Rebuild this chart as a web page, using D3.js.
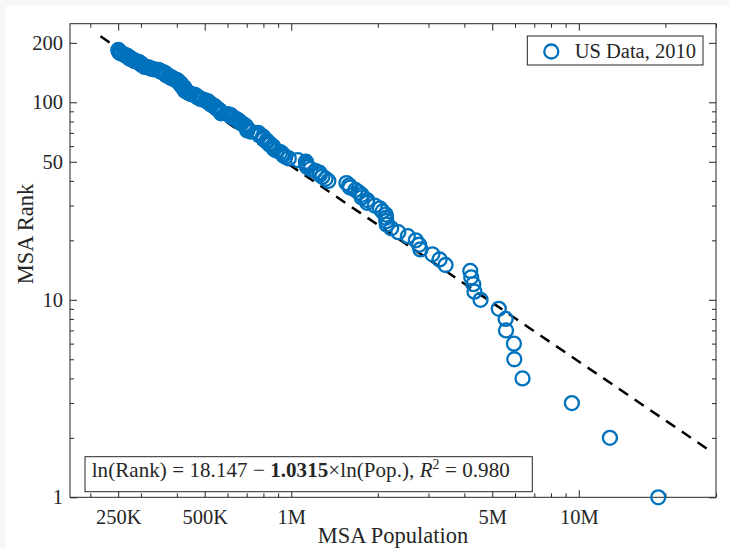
<!DOCTYPE html>
<html>

<head>
  <meta charset="utf-8">
  <style>
    body { margin: 0; background: #f7f7f7; }
    svg { display: block; }
    text { font-family: "Liberation Serif", "Times New Roman", serif; fill: #262626; }
  </style>
</head>

<body>
  <script src="https://d3js.org/d3.v7.min.js"></script>
  <script>
    // 2010 MSA populations, sorted, rank = position + 1
    var population = [
      18897109, 12828837, 9461105, 6371773, 5965343, 5946800, 5582170, 5564635, 5268860, 4552402,
      4335391, 4296250, 4224851, 4192887, 3439809, 3279833, 3095313, 2812896, 2783243, 2710489,
      2543482, 2356285, 2226009, 2149127, 2142508, 2134411, 2130151, 2077240, 2035334, 1951269,
      1836911, 1836536, 1758038, 1756241, 1716289, 1671683, 1600852, 1589934, 1555908, 1345596,
      1316100, 1283566, 1258251, 1252987, 1212381, 1167764, 1135509, 1130490, 1128047, 1124197,
      1054323, 980263, 953207, 937478, 930450, 916829, 887077, 870716, 865350, 862477,
      841502, 839631, 823318, 821173, 802484, 800647, 798552, 774769, 774160, 767598,
      723801, 703200, 702281, 699757, 698030, 692942, 685306, 670301, 664607, 662577,
      651429, 645613, 636986, 623061, 618754, 616561, 602095, 569633, 568593, 565773,
      563631, 556877, 549475, 547184, 543376, 539057, 528143, 526810, 519445, 514453,
      514098, 504357, 494593, 483878, 477717, 472099, 471221, 464036, 463204, 448991,
      442179, 436712, 434972, 428185, 425790, 425417, 424858, 423895, 424107, 417593,
      416257, 415057, 413344, 412992, 411442, 406220, 405300, 404422, 400721, 398604,
      390738, 388745, 380821, 379690, 379186, 374536, 367413, 366513, 366383, 365497,
      362315, 358676, 351715, 349431, 347611, 344791, 331298, 326589, 321520, 319224,
      309544, 308707, 306241, 304214, 302157, 299630, 299397, 298592, 294865, 294567,
      287702, 284890, 284307, 280566, 279771, 274549, 274055, 273949, 273738, 269637,
      269291, 269140, 264275, 263801, 262382, 257940, 255793, 253340, 252825, 252634,
      252264, 251725, 251133, 250304
    ];

    // dashed fit line, end points
    var fitPop = [217000, 28600000];
    var fitRank = [216, 1.72];

    var xMajor = [250000, 500000, 1000000, 5000000, 10000000];
    var xLabels = ["250K", "500K", "1M", "5M", "10M"];
    var yMajor = [1, 10, 50, 100, 200];
    var yLabels = ["1", "10", "50", "100", "200"];

    var width = 729,
      height = 548,
      margin = { top: 23.7, right: 13, bottom: 50.7, left: 70 };

    var svg = d3.select("body").append("svg")
      .attr("width", width)
      .attr("height", height);

    // white figure area (grey strip on top and left)
    svg.append("rect")
      .attr("x", 6).attr("y", 6)
      .attr("width", width - 6).attr("height", height - 6)
      .attr("fill", "#fff");

    var x = d3.scaleLog()
      .domain([1.7e5, 3e7])
      .range([margin.left, width - margin.right]);

    var y = d3.scaleLog()
      .domain([1, 250])
      .range([height - margin.bottom, margin.top]);

    function minorTicks(scale) {
      var d = scale.domain(), out = [];
      for (var e = Math.floor(Math.log10(d[0])); e <= Math.ceil(Math.log10(d[1])); e++) {
        for (var m = 1; m < 10; m++) {
          var v = m * Math.pow(10, e);
          if (v >= d[0] && v <= d[1]) out.push(v);
        }
      }
      return out;
    }

    var xMinor = minorTicks(x).filter(function(v) { return xMajor.indexOf(v) < 0; });
    var yMinor = minorTicks(y).filter(function(v) { return yMajor.indexOf(v) < 0; });

    var x0 = margin.left, x1 = width - margin.right,
      y0 = height - margin.bottom, y1 = margin.top;

    function addAxis(axis, tx, ty) {
      var g = svg.append("g")
        .attr("transform", "translate(" + tx + "," + ty + ")")
        .call(axis);
      g.select(".domain").remove();
      g.selectAll("line").attr("stroke", "#262626");
      g.selectAll("text").attr("font-size", "20.5px").attr("fill", "#262626")
        .attr("font-family", "Liberation Serif, serif");
      return g;
    }

    // bottom / top
    addAxis(d3.axisBottom(x).tickValues(xMajor).tickSize(-7).tickPadding(12)
      .tickFormat(function(d, i) { return xLabels[i]; }), 0, y0);
    addAxis(d3.axisBottom(x).tickValues(xMinor).tickSize(-4).tickFormat(""), 0, y0);
    addAxis(d3.axisTop(x).tickValues(xMajor).tickSize(-7).tickFormat(""), 0, y1);
    addAxis(d3.axisTop(x).tickValues(xMinor).tickSize(-4).tickFormat(""), 0, y1);

    // left / right
    addAxis(d3.axisLeft(y).tickValues(yMajor).tickSize(-7).tickPadding(7)
      .tickFormat(function(d, i) { return yLabels[i]; }), x0, 0);
    addAxis(d3.axisLeft(y).tickValues(yMinor).tickSize(-4).tickFormat(""), x0, 0);
    addAxis(d3.axisRight(y).tickValues(yMajor).tickSize(-7).tickFormat(""), x1, 0);
    addAxis(d3.axisRight(y).tickValues(yMinor).tickSize(-4).tickFormat(""), x1, 0);

    // box
    svg.append("rect")
      .attr("x", x0).attr("y", y1)
      .attr("width", x1 - x0).attr("height", y0 - y1)
      .attr("fill", "none")
      .attr("stroke", "#262626")
      .attr("stroke-width", 1);

    // fit line
    svg.append("line")
      .attr("x1", x(fitPop[0])).attr("y1", y(fitRank[0]))
      .attr("x2", x(fitPop[1])).attr("y2", y(fitRank[1]))
      .attr("stroke", "#000")
      .attr("stroke-width", 2.5)
      .attr("stroke-dasharray", "11,8");

    // data
    svg.append("g").selectAll("circle")
      .data(population)
      .enter().append("circle")
      .attr("cx", function(d) { return x(d); })
      .attr("cy", function(d, i) { return y(i + 1); })
      .attr("r", 7)
      .attr("fill", "none")
      .attr("stroke", "#0072BD")
      .attr("stroke-width", 2.3);

    // axis labels
    svg.append("text")
      .attr("x", (x0 + x1) / 2).attr("y", 543)
      .attr("text-anchor", "middle")
      .attr("font-size", "22.5px")
      .text("MSA Population");

    svg.append("text")
      .attr("transform", "translate(33,234) rotate(-90)")
      .attr("text-anchor", "middle")
      .attr("font-size", "22.5px")
      .text("MSA Rank");

    // legend
    var leg = svg.append("g");
    leg.append("rect")
      .attr("x", 527.3).attr("y", 36)
      .attr("width", 175.7).attr("height", 29)
      .attr("fill", "#fff")
      .attr("stroke", "#262626");
    leg.append("circle")
      .attr("cx", 551.3).attr("cy", 51.5)
      .attr("r", 7)
      .attr("fill", "none")
      .attr("stroke", "#0072BD")
      .attr("stroke-width", 2.3);
    leg.append("text")
      .attr("x", 574.7).attr("y", 58.3)
      .attr("font-size", "20.5px")
      .text("US Data, 2010");

    // equation box
    var eq = svg.append("g");
    eq.append("rect")
      .attr("x", 85).attr("y", 456.7)
      .attr("width", 447.3).attr("height", 35)
      .attr("fill", "#fff")
      .attr("stroke", "#262626");
    var t = eq.append("text")
      .attr("x", 91.7).attr("y", 477)
      .attr("font-size", "21px")
      .attr("textLength", 418)
      .attr("lengthAdjust", "spacing");
    t.append("tspan").text("ln(Rank) = 18.147 \u2212 ");
    t.append("tspan").attr("font-weight", "bold").text("1.0315");
    t.append("tspan").text("\u00d7ln(Pop.), ");
    t.append("tspan").attr("font-style", "italic").text("R");
    t.append("tspan").attr("font-size", "14px").attr("dy", -8).text("2");
    t.append("tspan").attr("dy", 8).text(" = 0.980");
  </script>
</body>

</html>
